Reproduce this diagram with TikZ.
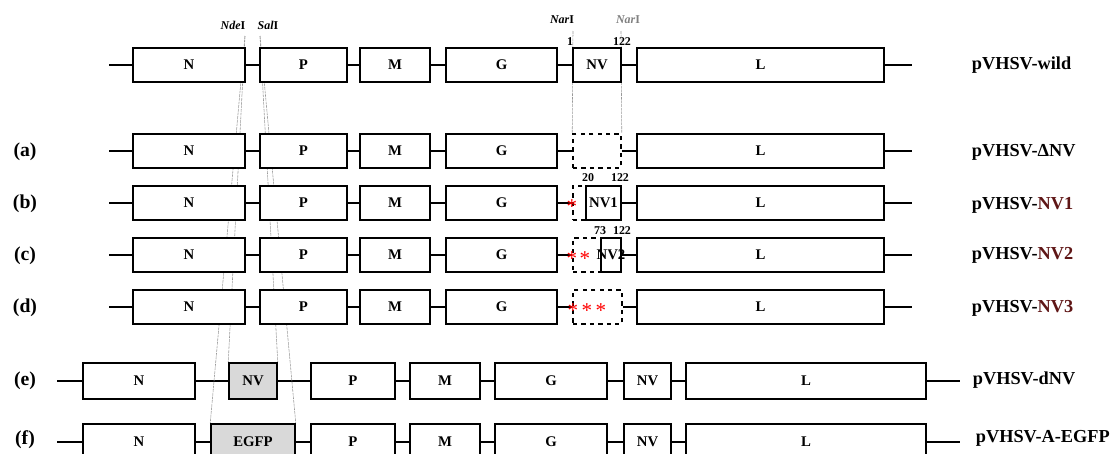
\documentclass[tikz,border=0pt]{standalone}
\usepackage{fontspec}
\setmainfont{Liberation Serif}
\usepackage{xcolor}
\usetikzlibrary{positioning,backgrounds}

\definecolor{nvred}{RGB}{95,22,22}
% box from x1 to x2 on the row at y
\newcommand{\gene}[6][gene]{%
  \node[#1, minimum width={(#4-#3)*0.025cm}] (#2) at ({(#3+#4)/2},#5) {#6};}

\begin{document}
\begin{tikzpicture}[x=0.025cm, y=-0.025cm,
  gene/.style={draw, line width=1.1pt, fill=white, inner sep=0pt,
    minimum height=0.85cm, font=\fontsize{10.5}{12}\selectfont\bfseries},
  tall/.style={minimum height=0.9cm},
  greybox/.style={fill=gray!30},
  gone/.style={gene, dashed},
  bb/.style={line width=1.1pt},
  guide/.style={gray!80, line width=0.4pt, dash pattern=on 2pt off 0.6pt},
  tag/.style={anchor=west, font=\fontsize{13}{15}\selectfont\bfseries},
  lbl/.style={font=\fontsize{14}{16}\selectfont\bfseries},
  site/.style={font=\fontsize{8.5}{10}\selectfont\bfseries},
  mut/.style={text=red, inner sep=0pt, yshift=-2.5pt, font=\fontsize{15}{15}\selectfont}
]
\useasboundingbox (0,0) rectangle (1112,454);

% restriction sites
\node[site] (nde) at (233,25) {\textit{Nde}I};
\node[site] (sal) at (268,25) {\textit{Sal}I};
\node[site] (nar1) at (562,20) {\textit{Nar}I};
\node[site, text=gray] (nar2) at (628,20) {\textit{Nar}I};
\node[site] (w-p1) at (570,42) {1};
\node[site] (w-p122) at (622,42) {122};
\coordinate (ndeT) at (245,36);
\coordinate (salT) at (260,36);
\coordinate (narT1) at (573,31);
\coordinate (narT2) at (621,31);

% rows wild, (a)-(d)
\foreach \r/\y in {w/65,a/151,b/203,c/255,d/307}{
  \coordinate (\r0) at (109,\y);
  \coordinate (\r9) at (912,\y);
  \gene{\r-N}{133}{245}{\y}{N}
  \gene{\r-P}{260}{347}{\y}{P}
  \gene{\r-M}{360}{430}{\y}{M}
  \gene{\r-G}{446}{557}{\y}{G}
  \gene{\r-L}{637}{884}{\y}{L}
}
\gene{w-V}{573}{621}{65}{NV}
\gene[gone]{a-V}{573}{621}{151}{}
\gene[gone]{b-D}{573}{586}{203}{}
\gene{b-V}{586}{621}{203}{NV1}
\gene[gone]{c-D}{573}{601}{255}{}
\node[gene, minimum width=0.5cm,
  label={[font=\fontsize{10.5}{12}\selectfont\bfseries]center:NV2}]
  (c-V) at (611,255) {};
\gene[gone]{d-V}{573}{622}{307}{}

\node[site] (b-p20) at (588,178) {20};
\node[site] (b-p122) at (620,178) {122};
\node[site] (c-p73) at (600,231) {73};
\node[site] (c-p122) at (622,231) {122};

\node[mut] (b-s1) at (572,203) {*};
\node[mut] (c-s1) at (572,255) {*};
\node[mut] (c-s2) at (585,255) {*};
\node[mut] (d-s1) at (573,307) {*};
\node[mut] (d-s2) at (587,307) {*};
\node[mut] (d-s3) at (601,307) {*};

% rows (e) and (f)
\foreach \r/\y in {e/381,f/442}{
  \coordinate (\r0) at (57,\y);
  \coordinate (\r9) at (960,\y);
  \gene[gene,tall]{\r-N}{83}{195}{\y}{N}
  \gene[gene,tall]{\r-P}{311}{395}{\y}{P}
  \gene[gene,tall]{\r-M}{410}{480}{\y}{M}
  \gene[gene,tall]{\r-G}{495}{607}{\y}{G}
  \gene[gene,tall]{\r-V}{624}{671}{\y}{NV}
  \gene[gene,tall]{\r-L}{686}{926}{\y}{L}
}
\gene[gene,tall,greybox]{e-X}{229}{277}{381}{NV}
\gene[gene,tall,greybox]{f-X}{211}{295}{442}{EGFP}

% row labels
\node[lbl] (la) at (25,152) {(a)};
\node[lbl] (lb) at (25,204) {(b)};
\node[lbl] (lc) at (25,256) {(c)};
\node[lbl] (ld) at (25,308) {(d)};
\node[lbl] (le) at (25,381) {(e)};
\node[lbl] (lf) at (25,440) {(f)};

\node[tag] (tw) at (967,65) {pVHSV-wild};
\node[tag] (ta) at (967,152) {pVHSV-ΔNV};
\node[tag] (tb) at (967,205) {pVHSV-\textcolor{nvred}{NV1}};
\node[tag] (tc) at (967,255) {pVHSV-\textcolor{nvred}{NV2}};
\node[tag] (td) at (967,308) {pVHSV-\textcolor{nvred}{NV3}};
\node[tag] (te) at (968,380) {pVHSV-dNV};
\node[tag] (tf) at (971,438) {pVHSV-A-EGFP};

\begin{scope}[on background layer]
  % backbones
  \foreach \r in {w,a,b,c,d,e,f}{
    \draw[bb] (\r0) -- (\r-N) -- (\r-P) -- (\r-M) -- (\r-G);
    \draw[bb] (\r-L) -- (\r9);
  }
  \draw[bb] (w-G) -- (w-V) -- (w-L);
  \draw[bb] (a-G) -- (a-V) -- (a-L);
  \draw[bb] (b-G) -- (b-D);
  \draw[bb] (b-V) -- (b-L);
  \draw[bb] (c-G) -- (c-D);
  \draw[bb] (c-V) -- (c-L);
  \draw[bb] (d-G) -- (d-V) -- (d-L);
  \draw[bb] (e-N) -- (e-X) -- (e-P);
  \draw[bb] (e-G) -- (e-V) -- (e-L);
  \draw[bb] (f-N) -- (f-X) -- (f-P);
  \draw[bb] (f-G) -- (f-V) -- (f-L);
  % cloning sites
  \draw[guide] (ndeT) -- (e-X.north west);
  \draw[guide] (ndeT) -- (f-X.north west);
  \draw[guide] (salT) -- (e-X.north east);
  \draw[guide] (salT) -- (f-X.north east);
  \draw[guide] (narT1) -- (a-V.north west);
  \draw[guide] (narT2) -- (a-V.north east);
\end{scope}
\end{tikzpicture}
\end{document}
